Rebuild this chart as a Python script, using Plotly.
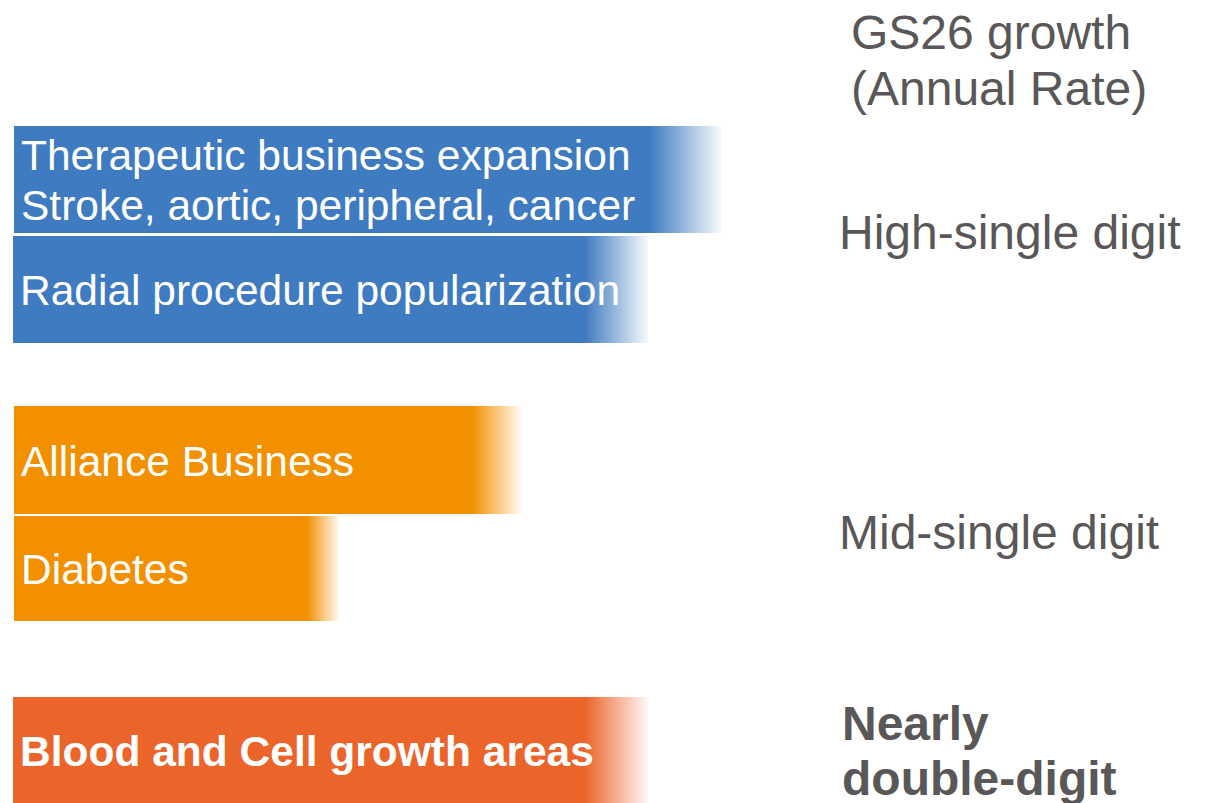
import plotly.graph_objects as go

# bar data: labels, where the solid colour ends, where the fade ends
labels = [
    ["Therapeutic business expansion", "Stroke, aortic, peripheral, cancer"],
    ["Radial procedure popularization"],
    ["Alliance Business"],
    ["Diabetes"],
    ["<b>Blood and Cell growth areas</b>"],
]
bar_start = [14, 13, 14, 14, 13]
solid_end = [650, 585, 472, 307, 585]
fade_end = [721, 648, 521, 339, 648]
colors = ["#3F7BC1", "#3F7BC1", "#F29000", "#F29000", "#EB6429"]

growth_header = ["GS26 growth", "(Annual Rate)"]
growth_labels = ["High-single digit", "Mid-single digit", "<b>Nearly</b>", "<b>double-digit</b>"]

W, H = 1211, 803
row_center = [179.5, 289.5, 460, 568.5, 750]
row_height = [107, 107, 108, 105, 107]


def rgba(hex_color, a):
    h = hex_color.lstrip("#")
    r, g, b = int(h[0:2], 16), int(h[2:4], 16), int(h[4:6], 16)
    return f"rgba({r},{g},{b},{a:.3f})"


fig = go.Figure()

for i in range(len(labels)):
    # solid part
    fig.add_trace(go.Bar(
        y=[row_center[i]], x=[solid_end[i] - bar_start[i]], base=[bar_start[i]],
        width=[row_height[i]], orientation="h",
        marker=dict(color=colors[i], line=dict(width=0)),
        showlegend=False, hoverinfo="skip"))
    # fading tail, one pixel-wide slice at a time
    n = fade_end[i] - solid_end[i]
    for k in range(n):
        a = 1 - (k + 0.5) / n * 0.96
        fig.add_trace(go.Bar(
            y=[row_center[i]], x=[1], base=[solid_end[i] + k],
            width=[row_height[i]], orientation="h",
            marker=dict(color=rgba(colors[i], a), line=dict(width=0)),
            showlegend=False, hoverinfo="skip"))

label_font = dict(family="Liberation Sans, Arial", size=42.5, color="white")
for i, lines in enumerate(labels):
    if len(lines) == 1:
        fig.add_annotation(x=bar_start[i] + 5, y=row_center[i] + 1, text=lines[0],
                           xanchor="left", yanchor="middle", showarrow=False, font=label_font)
    else:
        for j, t in enumerate(lines):
            fig.add_annotation(x=bar_start[i] + 5, y=row_center[i] - 24 + 50 * j, text=t,
                               xanchor="left", yanchor="middle", showarrow=False, font=label_font)

right_font = dict(family="Liberation Sans, Arial", size=48, color="#595757")
right_items = [
    (849, 32, growth_header[0]),
    (849, 88, growth_header[1]),
    (837, 232, growth_labels[0]),
    (837, 532, growth_labels[1]),
    (840, 723, growth_labels[2]),
    (840, 778, growth_labels[3]),
]
for x, y, t in right_items:
    fig.add_annotation(x=x, y=y, text=t, xanchor="left", yanchor="middle",
                       showarrow=False, font=right_font)

fig.update_layout(
    width=W, height=H,
    margin=dict(l=0, r=0, t=0, b=0),
    plot_bgcolor="white", paper_bgcolor="white",
    barmode="overlay", bargap=0,
    xaxis=dict(range=[0, W], visible=False, fixedrange=True),
    yaxis=dict(range=[H, 0], visible=False, fixedrange=True),
)

fig.write_html("out.html", config={"displayModeBar": False},
               post_script="document.body.style.margin='0';")
